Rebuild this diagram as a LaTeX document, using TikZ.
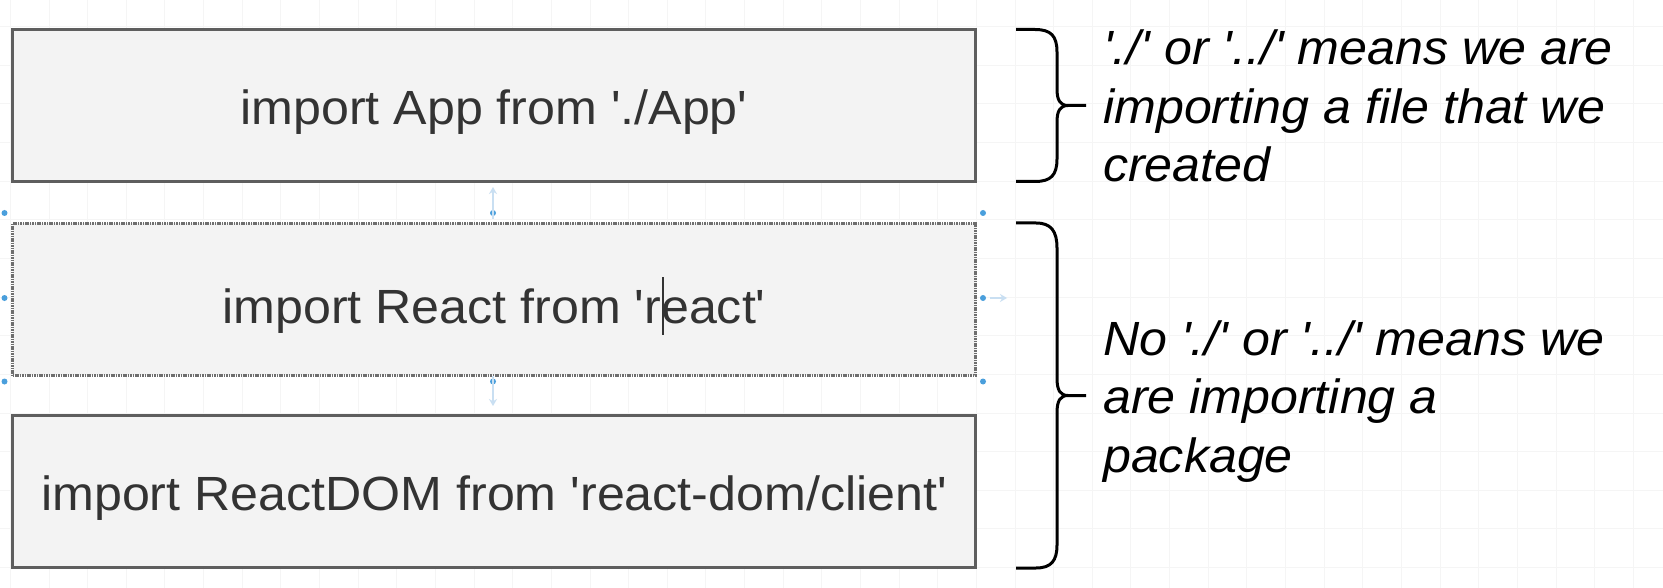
\documentclass[tikz,border=0pt]{standalone}
\usepackage{fontspec}
\newfontfamily\labfont[FakeStretch=1.045]{Liberation Sans}
\usetikzlibrary{arrows.meta}
\definecolor{boxfill}{HTML}{F3F3F3}
\definecolor{boxline}{HTML}{5E5E5E}
\definecolor{boxtext}{HTML}{333333}
\definecolor{handle}{HTML}{4A9FDC}
\definecolor{handlearrow}{HTML}{C9DFF2}
\definecolor{gridline}{HTML}{F5F5F5}
\begin{document}
\begin{tikzpicture}[x=1pt,y=-1pt,
  codebox/.style={draw=boxline, line width=3pt, fill=boxfill, minimum width=963pt,
    minimum height=152pt, inner sep=0pt, text=boxtext,
    font=\labfont\fontsize{48}{56}\selectfont, text height=44pt, text depth=5pt},
  selbox/.style={codebox, draw=boxline!90, dash pattern=on 1.6pt off 0.8pt},
  note/.style={anchor=base west, inner sep=0pt, text=black,
    font=\labfont\itshape\fontsize{48}{56}\selectfont},
  bracepath/.style={line width=3pt, black, line cap=butt},
  handledot/.style={circle, fill=handle, inner sep=0pt, minimum size=6pt},
  hint/.style={handlearrow, line width=2pt, -{Stealth[length=7pt,width=8pt]}}]
\useasboundingbox (0,0) rectangle (1663,588);
\fill[white] (0,0) rectangle (1663,588);
% faint grid
\foreach \i in {0,...,42} \draw[gridline, line width=1pt] ({10.4+38.64*\i},0) -- ({10.4+38.64*\i},588);
\foreach \j in {0,...,14} \draw[gridline, line width=1pt] (0,{26.6+38.64*\j}) -- (1663,{26.6+38.64*\j});

% code boxes
\node[codebox] (app) at (494,105.5) {import App from './App'};
\node[selbox, text height=52pt, text depth=4pt] (react) at (494,299.2) {import React from 'react'};
\node[codebox, text height=42pt, text depth=5.4pt] (dom) at (494,491.75) {import ReactDOM from 'react-dom/client'};

% text caret
\draw[boxtext, line width=1.5pt] (663,277) -- (663,335);

% selection handles
\foreach \n/\x/\y in {h1/4.5/213, h2/493/213, h3/983/213, h4/4.5/298, h5/983/298, h6/4.5/381.5, h7/493/381.5, h8/983/381.5}
  \node[handledot] (\n) at (\x,\y) {};
\coordinate (upend) at (493,187);
\coordinate (downend) at (493,406);
\coordinate (rightend) at (1007,298);
\draw[hint] ([yshift=-6pt]h2.center) -- (upend);
\draw[hint] ([yshift=6pt]h7.center) -- (downend);
\draw[hint] ([xshift=7pt]h5.center) -- (rightend);

% braces
\draw[bracepath] (1016,29.5) -- (1035,29.5) .. controls (1051,29.5) and (1057,36) .. (1057,52)
  -- (1057,89) .. controls (1057,100) and (1060,105.5) .. (1068,105.5) -- (1086,105.5)
  (1068,105.5) .. controls (1060,105.5) and (1057,111) .. (1057,122)
  -- (1057,159) .. controls (1057,175) and (1051,181.5) .. (1035,181.5) -- (1016,181.5);
\draw[bracepath] (1016,223) -- (1036,223) .. controls (1051,223) and (1057,231) .. (1057,248)
  -- (1057,378) .. controls (1057,390) and (1060,395.5) .. (1068,395.5) -- (1086,395.5)
  (1068,395.5) .. controls (1060,395.5) and (1057,401) .. (1057,413)
  -- (1057,545) .. controls (1057,561) and (1051,568) .. (1036,568) -- (1016,568);

% notes
\node[note] (n1a) at (1103,65) {'./' or '../' means we are};
\node[note] (n1b) at (1103,123.5) {importing a file that we};
\node[note] (n1c) at (1103,182) {created};
\node[note] (n2a) at (1103,355) {No './' or '../' means we};
\node[note] (n2b) at (1103,413.5) {are importing a};
\node[note] (n2c) at (1103,472) {package};
\end{tikzpicture}
\end{document}
